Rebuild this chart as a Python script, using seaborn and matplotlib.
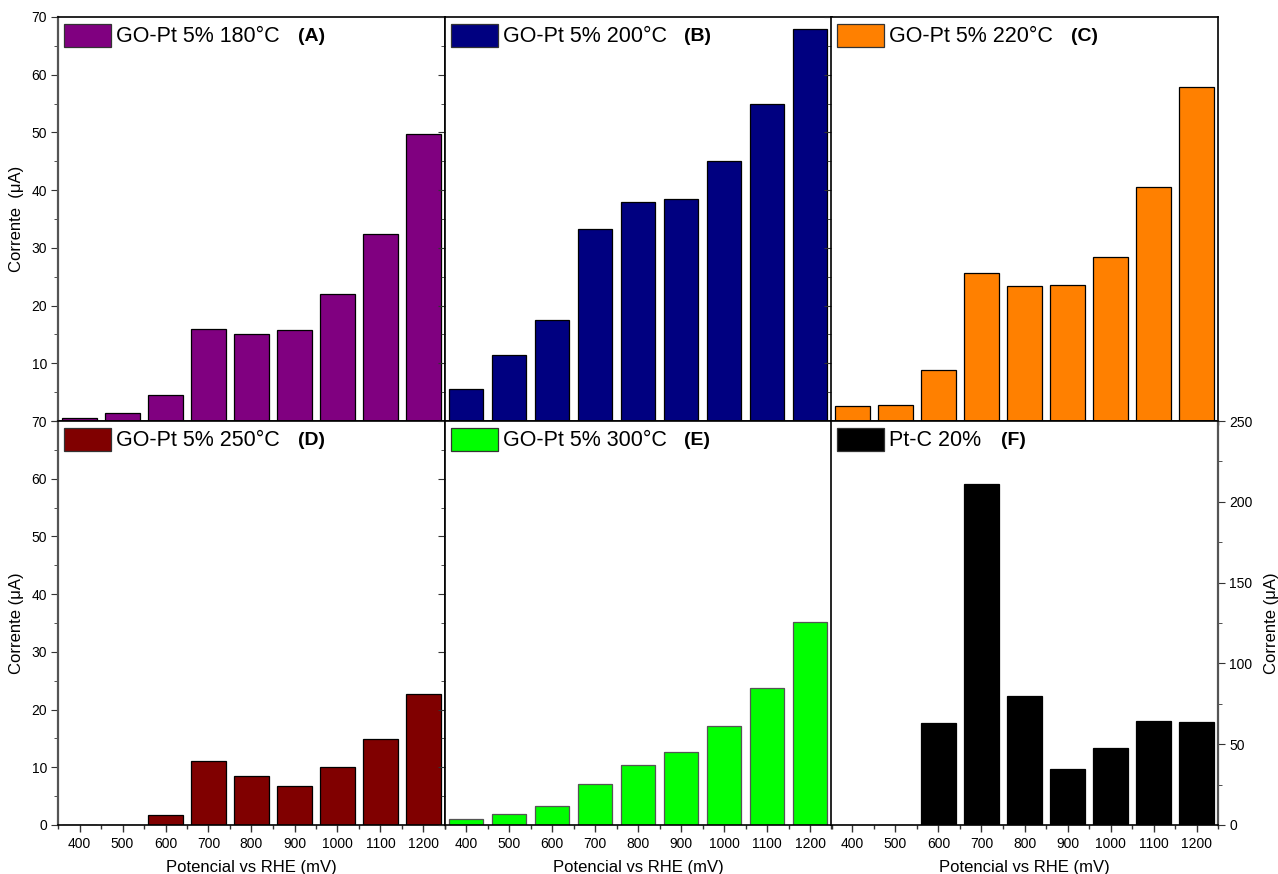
import matplotlib
matplotlib.use("Agg")
import matplotlib.pyplot as plt
from matplotlib.patches import Rectangle
from matplotlib.ticker import MultipleLocator, FixedLocator
import seaborn as sns
import pandas as pd

sns.set_style("white")
plt.rcParams["font.family"] = ["Liberation Sans", "DejaVu Sans"]
plt.rcParams["text.color"] = "black"
plt.rcParams["axes.labelcolor"] = "black"
plt.rcParams["xtick.labelcolor"] = "black"
plt.rcParams["ytick.labelcolor"] = "black"

potentials = [400, 500, 600, 700, 800, 900, 1000, 1100, 1200]

go_pt_180 = [0.6, 1.3, 4.5, 15.9, 15.1, 15.7, 22.0, 32.4, 49.7]
go_pt_200 = [5.5, 11.4, 17.5, 33.2, 37.9, 38.4, 45.0, 55.0, 67.9]
go_pt_220 = [2.6, 2.8, 8.8, 25.6, 23.4, 23.5, 28.4, 40.5, 57.8]
go_pt_250 = [0.0, 0.0, 1.7, 11.1, 8.5, 6.8, 10.0, 14.9, 22.7]
go_pt_300 = [1.0, 1.9, 3.3, 7.1, 10.4, 12.6, 17.2, 23.7, 35.2]
pt_c_20 = [0.0, 0.0, 63.0, 211.0, 80.0, 34.7, 47.6, 64.4, 63.7]

series_labels = ["GO-Pt 5% 180°C", "GO-Pt 5% 200°C", "GO-Pt 5% 220°C",
                 "GO-Pt 5% 250°C", "GO-Pt 5% 300°C", "Pt-C 20%"]
panel_tags = ["(A)", "(B)", "(C)", "(D)", "(E)", "(F)"]
bar_colors = ["#800080", "#000080", "#FF8000", "#800000", "#00FF00", "#000000"]
edge_colors = ["black", "black", "black", "black", "#555555", "black"]
tag_offsets = [0.62, 0.62, 0.62, 0.62, 0.62, 0.44]

series = [go_pt_180, go_pt_200, go_pt_220, go_pt_250, go_pt_300, pt_c_20]

W, H = 1278, 874
fig = plt.figure(figsize=(W / 100, H / 100), dpi=100)

col_x = [58, 444.5, 831]
col_w = 387
row_y = [17, 421]
row_h = 404

axis_gray = "#555555"

for i, vals in enumerate(series):
    r, c = divmod(i, 3)
    x0 = col_x[c]
    y_top = row_y[r]
    ax = fig.add_axes([x0 / W, 1 - (y_top + row_h) / H, col_w / W, row_h / H])
    df = pd.DataFrame({"pot": [str(p) for p in potentials], "val": vals})
    sns.barplot(data=df, x="pot", y="val", order=[str(p) for p in potentials],
                color=bar_colors[i], saturation=1, width=0.8,
                edgecolor=edge_colors[i], linewidth=0.9, ax=ax)
    ax.set_xlim(-0.5, 8.5)
    ax.xaxis.set_minor_locator(FixedLocator([k + 0.5 for k in range(-1, 9)]))
    ax.tick_params(axis="x", which="major", direction="out", length=5,
                   width=1, color="#333333", labelsize=10, pad=4, bottom=True)
    ax.tick_params(axis="x", which="minor", direction="out", length=3,
                   width=1, color="#333333", bottom=True)

    for s in ax.spines.values():
        s.set_color("black")
        s.set_linewidth(1.2)

    if i == 5:
        ax.set_ylim(0, 250)
        ax.yaxis.set_major_locator(MultipleLocator(50))
        ax.yaxis.set_minor_locator(MultipleLocator(25))
        ax.yaxis.tick_right()
        ax.yaxis.set_label_position("right")
        ax.tick_params(axis="y", which="both", direction="out", right=True,
                       left=False, color="#333333", labelsize=10, pad=3)
        ax.tick_params(axis="y", which="major", length=5)
        ax.tick_params(axis="y", which="minor", length=3)
        ax.spines["right"].set_color(axis_gray)
        ax.spines["right"].set_linewidth(1.6)
        ax.set_ylabel("Corrente (μA)", fontsize=12, labelpad=8)
    else:
        ax.set_ylim(0, 70)
        ax.yaxis.set_major_locator(MultipleLocator(10))
        ax.yaxis.set_minor_locator(MultipleLocator(5))
        ax.tick_params(axis="y", which="both", direction="out", left=True,
                       color="#333333", labelsize=10, pad=3)
        ax.tick_params(axis="y", which="major", length=5)
        ax.tick_params(axis="y", which="minor", length=3)
        if c == 0:
            ax.spines["left"].set_color(axis_gray)
            ax.spines["left"].set_linewidth(1.6)
            if r == 0:
                ax.set_yticks(range(0, 71, 10))
                ax.set_yticklabels([""] + [str(v) for v in range(10, 71, 10)])
                ax.set_ylabel("Corrente  (μA)", fontsize=12, labelpad=5)
            else:
                ax.set_ylabel("Corrente (μA)", fontsize=12, labelpad=5)
        else:
            ax.set_yticklabels([])
            ax.set_ylabel("")

    if r == 0:
        ax.set_xticklabels([])
        ax.set_xlabel("")
    else:
        ax.set_xticklabels([str(p) for p in potentials])
        ax.set_xlabel("Potencial vs RHE (mV)", fontsize=12, labelpad=6)

    # legend swatch and label
    ax.add_patch(Rectangle((0.016, 0.925), 0.122, 0.057, transform=ax.transAxes,
                           facecolor=bar_colors[i], edgecolor="#333333",
                           linewidth=0.9, clip_on=False))
    ax.text(0.151, 0.951, series_labels[i], transform=ax.transAxes,
            fontsize=15.5, va="center", ha="left")
    ax.text(tag_offsets[i], 0.951, panel_tags[i], transform=ax.transAxes,
            fontsize=14, fontweight="bold", va="center", ha="left")

fig.savefig("out.png", dpi=100)
